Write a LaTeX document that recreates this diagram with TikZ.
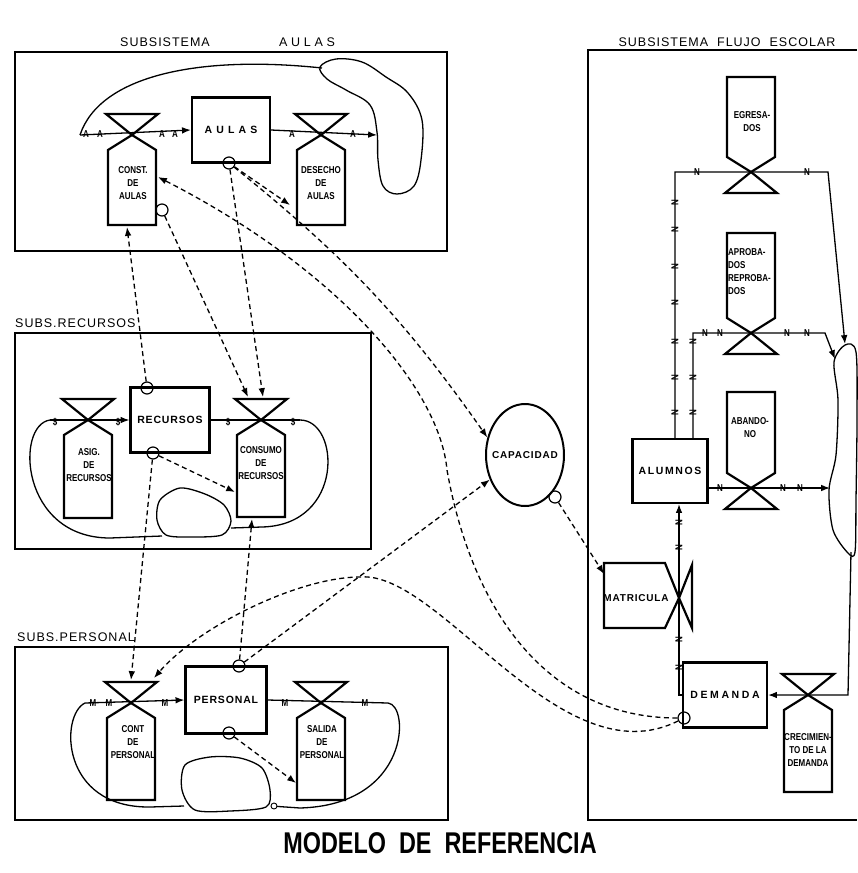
\documentclass[tikz,border=0pt]{standalone}
\usepackage{fontspec}
\setmainfont{Liberation Sans}
\newfontfamily\etiq[LetterSpace=8]{Liberation Sans}
\newfontfamily\angosta[FakeStretch=0.8]{Liberation Sans}
\usetikzlibrary{arrows.meta,shapes.geometric}

% valvula con tanque: #1,#2 centro; #3 sentido (1 abajo, -1 arriba); #4 largo; #5 nombre
\newcommand{\valvula}[5]{%
  \coordinate (#5) at (#1,#2);
  \draw[borde] ({#1-26},{#2-(#3)*21}) -- ({#1+26},{#2-(#3)*21}) -- (#5) -- cycle;
  \draw[borde] (#5) -- ({#1-24},{#2+(#3)*15}) -- ({#1-24},{#2+(#3)*(#4)})
    -- ({#1+24},{#2+(#3)*(#4)}) -- ({#1+24},{#2+(#3)*15}) -- cycle;}

\begin{document}
\begin{tikzpicture}[>=Latex,x=1pt,y=-1pt,
  borde/.style={line width=2.2pt},
  marco/.style={line width=1.2pt},
  flujo/.style={line width=1.3pt},
  infl/.style={line width=1.3pt,dash pattern=on 5pt off 3.5pt,->},
  nivel/.style={draw,line width=2.2pt,font=\etiq\bfseries\fontsize{10.5}{11}\selectfont},
  info/.style={draw,circle,line width=1.2pt,minimum size=12pt,inner sep=0pt},
  tanque/.style={align=center,inner sep=0pt,font=\angosta\bfseries\fontsize{10}{13}\selectfont},
  marca/.style={inner sep=0pt,font=\angosta\bfseries\fontsize{10}{10}\selectfont},
  titulo/.style={inner sep=0pt,font=\etiq\fontsize{12.5}{13}\selectfont}]
  \useasboundingbox (0,0) rectangle (857,873);

  % marcos y titulos
  \draw[marco] (15,52) rectangle (447,251);
  \draw[marco] (15,333) rectangle (371,549);
  \draw[marco] (15,647) rectangle (448,820);
  \draw[marco] (857,50) -- (588,50) -- (588,820) -- (857,820);
  \node[titulo] (tsub) at (165,42) {SUBSISTEMA};
  \node[titulo] (taul) at (307,42) {\addfontfeature{LetterSpace=30}AULAS};
  \node[titulo,anchor=west] (trec) at (15,323) {SUBS.RECURSOS};
  \node[titulo,anchor=west] (tper) at (17,637) {SUBS.PERSONAL};
  \node[titulo] (tflu) at (727,42) {SUBSISTEMA\ \ FLUJO\ \ ESCOLAR};
  \node (tmod) at (440,843) {\scalebox{0.78}[1]{\bfseries\fontsize{30}{30}\selectfont MODELO\ \ DE\ \ REFERENCIA}};

  % subsistema aulas
  \node[nivel,minimum width=78pt,minimum height=65pt] (aulas) at (231,130) {\addfontfeature{LetterSpace=40}AULAS};
  \valvula{132}{135}{1}{90}{vconst}
  \valvula{321}{135}{1}{90}{vdes}
  \node[tanque] (tconst) at (133,183) {CONST.\\DE\\AULAS};
  \node[tanque] (tdes) at (321,183) {DESECHO\\DE\\AULAS};
  \coordinate (a0) at (80,135);
  \coordinate (a1) at (377,135);
  \draw[flujo,->] (a0) -- (aulas.west);
  \draw[flujo,->] (aulas.east) -- (a1);
  \foreach \x/\n in {86/1,100/2,162/3,175/4,292/5,353/6}
    \node[marca] (ma\n) at (\x,134) {A};
  \draw[flujo] (a0) .. controls (100,75) and (200,55) .. (322,68);
  \draw[flujo] plot[smooth cycle,tension=0.6] coordinates {(320,67) (336,59) (362,62) (386,77)
    (408,93) (422,120) (421,160) (414,186) (397,194) (383,186) (378,160) (377,132) (370,105)
    (346,90) (327,79)};
  \node[info] (caul) at (229,163) {};
  \node[info] (ccon) at (162,210) {};

  % subsistema recursos
  \node[nivel,minimum width=79pt,minimum height=65pt] (recursos) at (170,420) {RECURSOS};
  \valvula{88}{420}{1}{98}{vasig}
  \valvula{261}{420}{1}{97}{vcons}
  \node[tanque] (tasig) at (89,465) {ASIG.\\DE\\RECURSOS};
  \node[tanque] (tcons) at (261,463) {CONSUMO\\DE\\RECURSOS};
  \coordinate (r0) at (50,420);
  \coordinate (r1) at (300,420);
  \draw[flujo,->] (r0) -- (recursos.west);
  \draw[flujo] (recursos.east) -- (r1);
  \foreach \x/\n in {55/1,118/2,228/3,293/4}
    \node[marca] (mr\n) at (\x,422) {\$};
  \draw[flujo] (r0) .. controls (15,425) and (20,538) .. (110,538) -- (162,536);
  \draw[flujo] plot[smooth cycle] coordinates {(160,500) (180,488) (205,494) (224,505)
    (231,521) (222,535) (190,537) (166,535) (157,520)};
  \draw[flujo] (231,528) -- (262,527) .. controls (345,525) and (340,420) .. (r1);
  \node[info] (crec1) at (147,388) {};
  \node[info] (crec2) at (153,453) {};

  % subsistema personal
  \node[nivel,minimum width=81pt,minimum height=67pt] (personal) at (226,700) {PERSONAL};
  \valvula{131}{703}{1}{97}{vcont}
  \valvula{321}{703}{1}{97}{vsal}
  \node[tanque] (tcont) at (133,742) {CONT\\DE\\PERSONAL};
  \node[tanque] (tsal) at (322,742) {SALIDA\\DE\\PERSONAL};
  \coordinate (p0) at (85,703);
  \coordinate (p1) at (388,703);
  \draw[flujo,->] (p0) -- (personal.west);
  \draw[flujo] (personal.east) -- (p1);
  \foreach \x/\n in {93/1,109/2,165/3,285/4,365/5}
    \node[marca] (mp\n) at (\x,703) {M};
  \draw[flujo] (p0) .. controls (60,715) and (60,808) .. (150,807) -- (184,806);
  \draw[flujo] plot[smooth cycle] coordinates {(185,765) (210,757) (240,758) (262,768)
    (270,790) (266,807) (230,811) (195,810) (182,790)};
  \draw[flujo] (271,806) -- (300,808) .. controls (410,805) and (410,705) .. (p1);
  \node[draw,circle,minimum size=6pt,inner sep=0pt,line width=0.9pt,fill=white] (nudo) at (274,806) {};
  \node[info] (cper1) at (239,666) {};
  \node[info] (cper2) at (229,733) {};

  % capacidad
  \node[draw,ellipse,line width=2pt,minimum width=78pt,minimum height=102pt,inner sep=0pt,
    font=\etiq\bfseries\fontsize{10}{11}\selectfont] (capacidad) at (525,455) {\makebox[0pt]{CAPACIDAD}};
  \node[info] (ccap) at (555,497) {};

  % subsistema flujo escolar
  \node[nivel,minimum width=75pt,minimum height=64pt] (alumnos) at (670,471) {\addfontfeature{LetterSpace=15}ALUMNOS};
  \node[nivel,minimum width=84pt,minimum height=65pt] (demanda) at (725,695) {\addfontfeature{LetterSpace=25}DEMANDA};
  \node[info] (cdem) at (684,718) {};
  \valvula{751}{172}{-1}{95}{vegr}
  \valvula{751}{333}{-1}{100}{vapr}
  \valvula{751}{488}{-1}{96}{vaba}
  \valvula{808}{695}{1}{97}{vcre}
  \node[tanque] (tegr) at (752,122) {EGRESA-\\DOS};
  \node[tanque,align=left,anchor=west] (tapr) at (728,272) {APROBA-\\DOS\\REPROBA-\\DOS};
  \node[tanque] (taba) at (750,428) {ABANDO-\\NO};
  \node[tanque] (tcre) at (808,750) {CRECIMIEN-\\TO DE LA\\DEMANDA};
  \coordinate (vmat) at (679,598);
  \draw[borde] (vmat) -- (665,563) -- (604,563) -- (604,628) -- (665,628) -- cycle;
  \draw[borde] (vmat) -- (692,565) -- (692,628) -- cycle;
  \node[font=\etiq\bfseries\fontsize{10}{11}\selectfont] (tmat) at (636,598) {MATRICULA};

  \coordinate (q1) at (828,172);
  \coordinate (q2) at (825,333);
  \coordinate (q4) at (848,695);
  \coordinate (d0) at (679,695);
  \coordinate (nb1) at (845,344);
  \coordinate (nb2) at (835,359);
  \coordinate (nb3) at (830,488);
  \coordinate (nb4) at (851,552);
  \draw[flujo,->] ([xshift=5pt]alumnos.north) |- (vegr) -- (q1) -- (nb1);
  \draw[flujo,->] ([xshift=23pt]alumnos.north) |- (vapr) -- (q2) -- (nb2);
  \draw[flujo,->] (alumnos.east |- vaba) -- (nb3);
  \draw[flujo,->] (nb4) -- (q4) -- (vcre) -- (demanda.east |- vcre);
  \draw[flujo,->] (demanda.west) -- (d0) -- (vmat) -- (alumnos.south -| vmat);
  \draw[flujo] plot[smooth cycle,tension=0.5] coordinates {(845,345) (856,352) (857,420)
    (856,500) (855,552) (848,553) (833,530) (829,490) (836,455) (838,400) (834,362)};
  \foreach \x/\y/\n in {697/172/1,807/172/2,705/333/3,720/333/4,787/333/5,807/333/6,
                        720/488/7,783/488/8,800/488/9}
    \node[marca] (mn\n) at (\x,\y) {N};
  \foreach \x/\y/\n in {675/203/1,675/230/2,675/267/3,675/303/4,675/342/5,675/378/6,675/413/7,
                        693/342/8,693/378/9,693/413/10,679/523/11,679/548/12,679/640/13,679/668/14}
    \node[marca,rotate=90] (mv\n) at (\x,\y) {N};

  % influencias
  \coordinate (kcons1) at (248,397);
  \coordinate (kcons2) at (263,397);
  \coordinate (kdes) at (290,205);
  \coordinate (kconst) at (158,177);
  \coordinate (kconstb) at (127,227);
  \coordinate (kcons3) at (235,492);
  \coordinate (kcont1) at (131,680);
  \coordinate (kcont2) at (154,678);
  \coordinate (kcons4) at (252,519);
  \coordinate (ksal) at (296,783);
  \coordinate (kmat) at (604,574);
  \draw[infl] (ccon) -- (kcons1);
  \draw[infl] (caul) -- (kcons2);
  \draw[infl] (caul) -- (kdes);
  \draw[infl] (caul) to[bend left=8] (capacidad.155);
  \draw[infl] (cdem) .. controls (540,718) and (470,600) .. (447,470)
    .. controls (440,390) and (340,270) .. (kconst);
  \draw[infl] (crec1) -- (kconstb);
  \draw[infl] (crec2) -- (kcons3);
  \draw[infl] (crec2) -- (kcont1);
  \draw[infl] (cper1) -- (kcons4);
  \draw[infl] (cper1) -- (capacidad.215);
  \draw[infl] (cper2) -- (ksal);
  \draw[infl] (cdem) .. controls (560,780) and (440,570) .. (360,577)
    .. controls (300,577) and (200,625) .. (kcont2);
  \draw[infl] (ccap) -- (kmat);
\end{tikzpicture}
\end{document}
